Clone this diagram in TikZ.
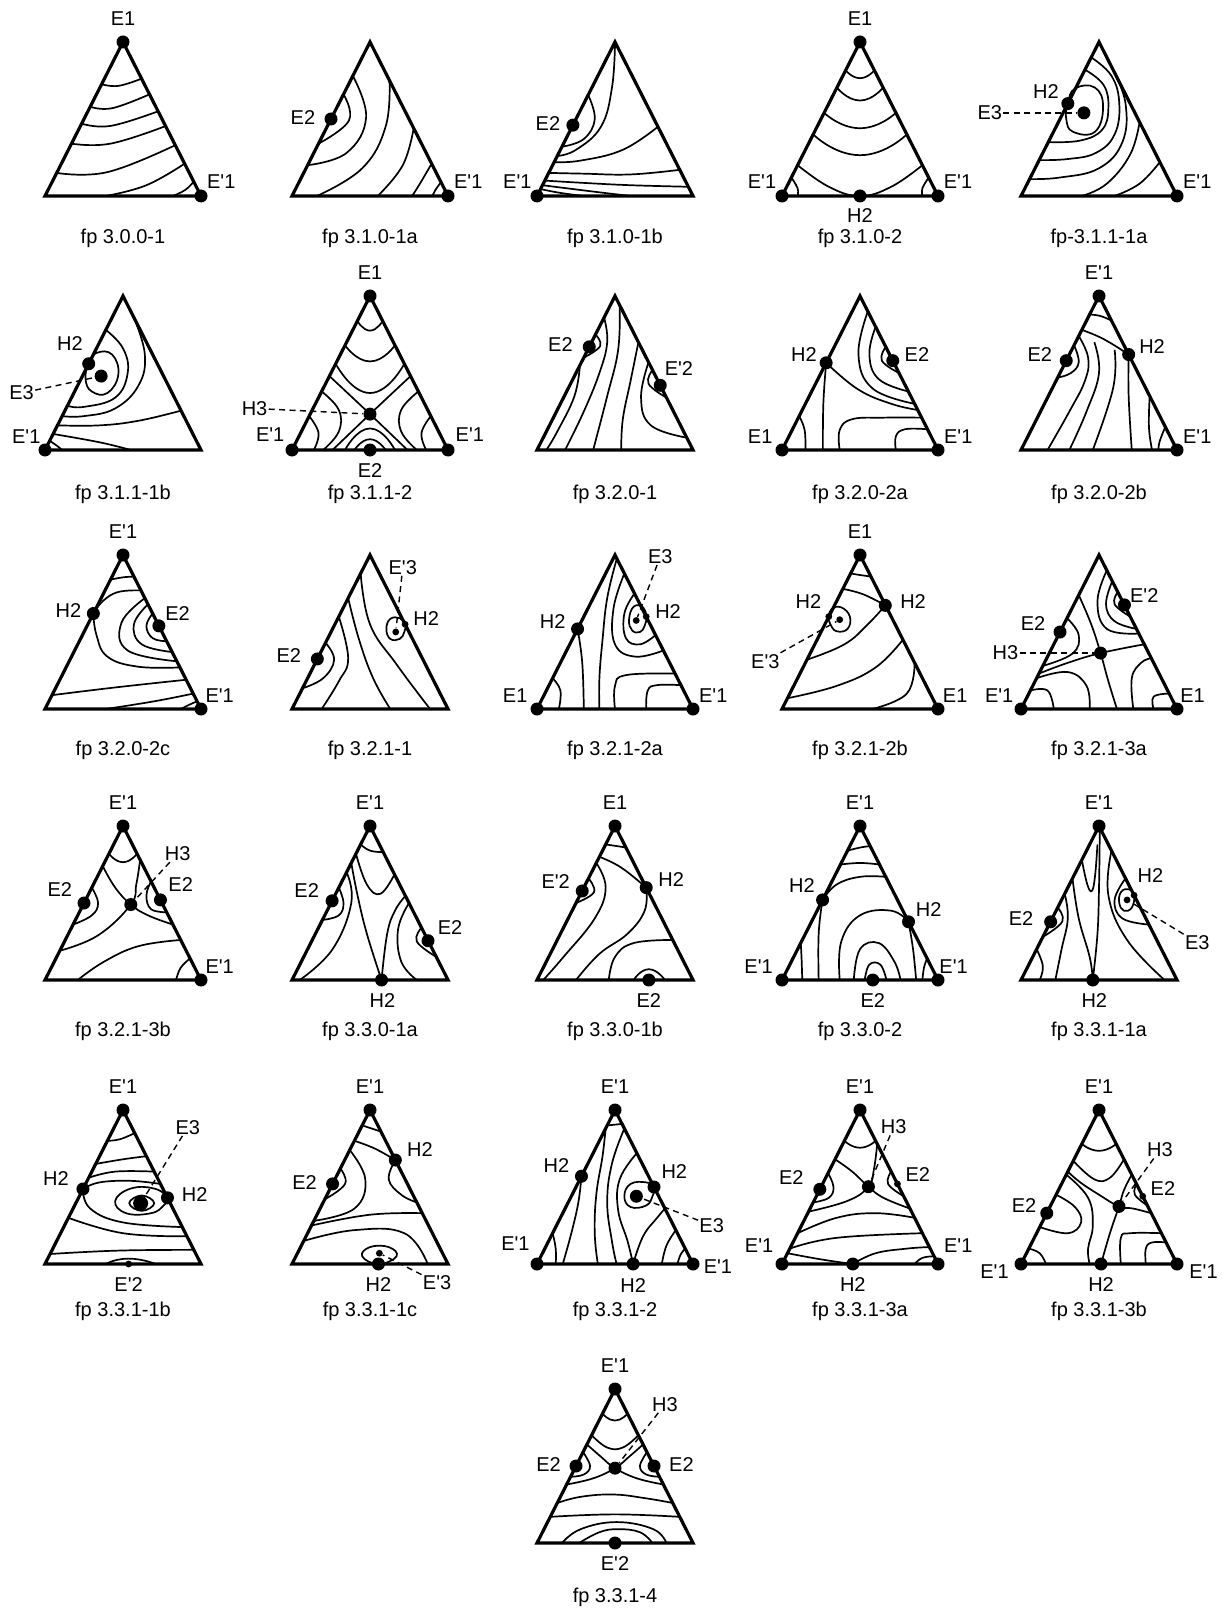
\documentclass[tikz,border=0pt]{standalone}
\usepackage{fontspec}
\setmainfont{Liberation Sans}[Ligatures=TeXOff]
\newcommand\ptri{\draw[edge] (0,0) -- (1,0) -- (0.5,1) -- cycle;}
\newcommand\pcl[1]{\draw[cont] plot[smooth,tension=0.7] coordinates {#1};}
\newcommand\pcu[1]{\draw[cont] plot[smooth,tension=1] coordinates {#1};}
\newcommand\ploop[1]{\draw[cont] plot[smooth cycle,tension=0.75] coordinates {#1};}
\begin{document}
\begin{tikzpicture}[x=0.5pt,y=-0.5pt,
 edge/.style={line width=1.6pt,line join=miter},
 cont/.style={line width=0.85pt},
 dot/.style={circle,fill=black,inner sep=0pt,minimum size=6.5pt},
 sdot/.style={circle,fill=black,inner sep=0pt,minimum size=3.4pt},
 vl/.style={font=\fontsize{10}{12}\selectfont,inner sep=0.5pt},
 pl/.style={font=\fontsize{10}{12}\selectfont,inner sep=0.5pt},
 lead/.style={line width=0.7pt,dash pattern=on 3pt off 2.2pt},
 pan/.style={x=78pt,y=77pt}]
\fill[white] (0,0) rectangle (1221,1610);
\useasboundingbox (0,0) rectangle (1221,1610);

% ---------- A fp 3.0.0-1
\begin{scope}[shift={(45,196)},pan]
\ptri
\pcl{(0.363,0.726) (0.47,0.715) (0.619,0.762)}
\pcl{(0.29,0.58) (0.43,0.57) (0.67,0.66)}
\pcl{(0.235,0.47) (0.42,0.455) (0.725,0.55)}
\pcl{(0.17,0.34) (0.42,0.34) (0.773,0.454)}
\pcl{(0.075,0.15) (0.4,0.155) (0.835,0.33)}
\pcl{(0.39,0) (0.65,0.07) (0.895,0.21)}
\pcl{(0.82,0) (0.9,0.04) (0.953,0.093)}
\node[dot] (a1) at (0.5,1) {};
\node[dot] (a2) at (1,0) {};
\node[vl] (al1) at (0.5,1.155) {E1};
\node[vl] (al2) at (1.13,0.095) {E'1};
\end{scope}
\node[pl] (at) at (123,238) {fp 3.0.0-1};

% ---------- B fp 3.1.0-1a
\begin{scope}[shift={(292,196)},pan]
\ptri
\pcl{(0.33,0.66) (0.365,0.49) (0.17,0.34)}
\pcl{(0.39,0.78) (0.475,0.51) (0.35,0.28) (0.1,0.2)}
\pcl{(0.625,0.75) (0.6,0.45) (0.45,0.18) (0.16,0)}
\pcl{(0.78,0.44) (0.71,0.2) (0.55,0)}
\pcl{(0.895,0.21) (0.82,0.08) (0.77,0)}
\pcl{(0.955,0.09) (0.92,0.04) (0.9,0)}
\node[dot] (b1) at (0.25,0.5) {};
\node[dot] (b2) at (1,0) {};
\node[vl] (bl1) at (0.07,0.51) {E2};
\node[vl] (bl2) at (1.13,0.095) {E'1};
\end{scope}
\node[pl] (bt) at (370,238) {fp 3.1.0-1a};

% ---------- C fp 3.1.0-1b
\begin{scope}[shift={(537,196)},pan]
\ptri
\pcl{(0.328,0.656) (0.37,0.5) (0.3,0.37) (0.16,0.32)}
\pcl{(0.5,0.99) (0.48,0.7) (0.41,0.45) (0.25,0.3) (0.13,0.26)}
\pcl{(0.775,0.45) (0.55,0.3) (0.28,0.23) (0.11,0.22)}
\pcl{(0.915,0.17) (0.6,0.14) (0.3,0.145) (0.075,0.15)}
\pcl{(0.97,0.06) (0.6,0.07) (0.3,0.085) (0.05,0.1)}
\pcl{(0.6,0) (0.35,0.03) (0.035,0.07)}
\pcl{(0.3,0) (0.15,0.02) (0.022,0.045)}
\node[dot] (c1) at (0.23,0.46) {};
\node[dot] (c2) at (0,0) {};
\node[vl] (cl1) at (0.07,0.47) {E2};
\node[vl] (cl2) at (-0.126,0.095) {E'1};
\end{scope}
\node[pl] (ct) at (615,238) {fp 3.1.0-1b};

% ---------- D fp 3.1.0-2
\begin{scope}[shift={(782,196)},pan]
\ptri
\pcu{(0.408,0.816) (0.5,0.765) (0.592,0.816)}
\pcu{(0.352,0.704) (0.5,0.62) (0.648,0.704)}
\pcu{(0.27,0.54) (0.5,0.44) (0.73,0.54)}
\pcu{(0.2,0.4) (0.5,0.265) (0.8,0.4)}
\pcl{(0.1,0.2) (0.3,0.06) (0.5,0) (0.7,0.06) (0.9,0.2)}
\pcl{(0.06,0.12) (0.1,0.05) (0.1,0)}
\pcl{(0.94,0.12) (0.9,0.05) (0.9,0)}
\node[dot] (d1) at (0.5,1) {};
\node[dot] (d2) at (0,0) {};
\node[dot] (d3) at (1,0) {};
\node[dot] (d4) at (0.5,0) {};
\node[vl] (dl1) at (0.5,1.155) {E1};
\node[vl] (dl2) at (-0.128,0.093) {E'1};
\node[vl] (dl3) at (1.128,0.093) {E'1};
\node[vl] (dl4) at (0.5,-0.125) {H2};
\end{scope}
\node[pl] (dt) at (860,238) {fp 3.1.0-2};

% ---------- E fp-3.1.1-1a
\begin{scope}[shift={(1021,196)},pan]
\ptri
\ploop{(0.3,0.6) (0.346,0.698) (0.474,0.704) (0.526,0.579) (0.474,0.417) (0.333,0.417) (0.29,0.5)}
\pcl{(0.41,0.82) (0.53,0.72) (0.56,0.57) (0.52,0.43) (0.38,0.36) (0.176,0.35)}
\pcl{(0.45,0.9) (0.58,0.78) (0.63,0.6) (0.6,0.4) (0.48,0.28) (0.3,0.24) (0.117,0.233)}
\pcl{(0.59,0.82) (0.67,0.6) (0.65,0.35) (0.5,0.18) (0.25,0.12) (0.055,0.11)}
\pcl{(0.76,0.48) (0.7,0.27) (0.55,0.08) (0.39,0)}
\pcl{(0.89,0.22) (0.76,0.08) (0.6,0)}
\node[dot] (e1) at (0.3,0.6) {};
\node[dot] (e2) at (0.403,0.54) {};
\node[dot] (e3) at (1,0) {};
\node[vl] (el1) at (0.16,0.676) {H2};
\node[vl] (el2) at (-0.2,0.54) {E3};
\node[vl] (el3) at (1.13,0.095) {E'1};
\draw[lead] (el2) -- (e2);
\end{scope}
\node[pl] (et) at (1099,238) {fp-3.1.1-1a};

% ---------- F fp 3.1.1-1b
\begin{scope}[shift={(45,450)},pan]
\ptri
\ploop{(0.28,0.56) (0.33,0.63) (0.43,0.62) (0.47,0.49) (0.4,0.37) (0.3,0.38) (0.26,0.46)}
\pcl{(0.39,0.78) (0.5,0.66) (0.53,0.5) (0.45,0.34) (0.25,0.28) (0.144,0.287)}
\pcl{(0.57,0.86) (0.64,0.62) (0.6,0.42) (0.45,0.27) (0.25,0.22) (0.11,0.22)}
\pcl{(0.87,0.255) (0.6,0.19) (0.35,0.16) (0.08,0.16)}
\pcl{(0.052,0.104) (0.35,0.05) (0.55,0)}
\pcl{(0.03,0.06) (0.08,0.025) (0.11,0)}
\node[dot] (f1) at (0.28,0.56) {};
\node[dot] (f2) at (0.36,0.48) {};
\node[dot] (f3) at (0,0) {};
\node[vl] (fl1) at (0.16,0.69) {H2};
\node[vl] (fl2) at (-0.15,0.37) {E3};
\node[vl] (fl3) at (-0.12,0.09) {E'1};
\draw[lead] (fl2) -- (f2);
\end{scope}
\node[pl] (ft) at (123,494) {fp 3.1.1-1b};

% ---------- G fp 3.1.1-2
\begin{scope}[shift={(292,450)},pan]
\ptri
\pcu{(0.419,0.838) (0.5,0.775) (0.581,0.838)}
\pcu{(0.34,0.68) (0.5,0.575) (0.66,0.68)}
\pcu{(0.28,0.56) (0.5,0.37) (0.72,0.56)}
\pcl{(0.24,0.48) (0.5,0.233) (0.74,0)}
\pcl{(0.76,0.48) (0.5,0.233) (0.26,0)}
\pcl{(0.19,0.38) (0.3,0.26) (0.3,0.12) (0.2,0)}
\pcl{(0.11,0.22) (0.17,0.11) (0.14,0)}
\pcl{(0.81,0.38) (0.7,0.26) (0.7,0.12) (0.8,0)}
\pcl{(0.89,0.22) (0.83,0.11) (0.86,0)}
\pcu{(0.34,0) (0.5,0.14) (0.66,0)}
\pcu{(0.4,0) (0.5,0.07) (0.6,0)}
\node[dot] (g1) at (0.5,1) {};
\node[dot] (g2) at (0,0) {};
\node[dot] (g3) at (1,0) {};
\node[dot] (g4) at (0.5,0) {};
\node[dot] (g5) at (0.5,0.233) {};
\node[vl] (gl1) at (0.5,1.155) {E1};
\node[vl] (gl2) at (-0.14,0.1) {E'1};
\node[vl] (gl3) at (1.14,0.1) {E'1};
\node[vl] (gl4) at (0.5,-0.13) {E2};
\node[vl] (gl5) at (-0.24,0.27) {H3};
\draw[lead] (gl5) -- (g5);
\end{scope}
\node[pl] (gt) at (370,494) {fp 3.1.1-2};

% ---------- H fp 3.2.0-1
\begin{scope}[shift={(537,450)},pan]
\ptri
\pcl{(0.375,0.75) (0.405,0.675) (0.3,0.6)}
\pcl{(0.74,0.52) (0.715,0.43) (0.83,0.34)}
\pcl{(0.275,0.55) (0.24,0.35) (0.13,0.12) (0.06,0)}
\pcl{(0.43,0.86) (0.45,0.7) (0.4,0.5) (0.3,0.25) (0.18,0)}
\pcl{(0.53,0.94) (0.52,0.65) (0.45,0.35) (0.36,0)}
\pcl{(0.65,0.7) (0.6,0.45) (0.55,0.2) (0.54,0)}
\pcl{(0.715,0.57) (0.667,0.34) (0.73,0.16) (0.96,0.08)}
\node[dot] (h1) at (0.335,0.67) {};
\node[dot] (h2) at (0.79,0.42) {};
\node[vl] (hl1) at (0.15,0.685) {E2};
\node[vl] (hl2) at (0.91,0.53) {E'2};
\end{scope}
\node[pl] (ht) at (615,494) {fp 3.2.0-1};

% ---------- I fp 3.2.0-2a
\begin{scope}[shift={(782,450)},pan]
\ptri
\pcl{(0.665,0.67) (0.64,0.58) (0.75,0.5)}
\pcl{(0.6,0.8) (0.56,0.62) (0.62,0.46) (0.81,0.38)}
\pcl{(0.55,0.9) (0.49,0.62) (0.58,0.4) (0.85,0.3)}
\pcl{(0.283,0.566) (0.487,0.394) (0.7,0.3) (0.87,0.26)}
\pcl{(0.283,0.566) (0.265,0.3) (0.262,0)}
\pcl{(0.15,0) (0.145,0.13) (0.11,0.22)}
\pcl{(0.37,0) (0.37,0.13) (0.45,0.2) (0.65,0.21) (0.895,0.21)}
\pcl{(0.73,0) (0.73,0.09) (0.79,0.135) (0.93,0.135)}
\node[dot] (i1) at (0.283,0.566) {};
\node[dot] (i2) at (0.71,0.58) {};
\node[dot] (i3) at (0,0) {};
\node[dot] (i4) at (1,0) {};
\node[vl] (il1) at (0.14,0.62) {H2};
\node[vl] (il2) at (0.865,0.62) {E2};
\node[vl] (il3) at (-0.14,0.09) {E1};
\node[vl] (il4) at (1.13,0.09) {E'1};
\end{scope}
\node[pl] (it) at (860,494) {fp 3.2.0-2a};

% ---------- J fp 3.2.0-2b
\begin{scope}[shift={(1021,450)},pan]
\ptri
\pcl{(0.34,0.68) (0.37,0.57) (0.32,0.5) (0.235,0.47)}
\pcl{(0.44,0.88) (0.51,0.87) (0.58,0.84)}
\pcl{(0.39,0.78) (0.53,0.72) (0.69,0.62)}
\pcl{(0.37,0.74) (0.43,0.6) (0.41,0.45) (0.31,0.25) (0.17,0)}
\pcl{(0.47,0.7) (0.5,0.5) (0.42,0.25) (0.31,0)}
\pcl{(0.6,0.65) (0.59,0.4) (0.46,0)}
\pcl{(0.69,0.62) (0.69,0.35) (0.71,0)}
\pcl{(0.825,0.35) (0.82,0.15) (0.84,0)}
\pcl{(0.925,0.15) (0.89,0.06) (0.88,0)}
\node[dot] (j1) at (0.5,1) {};
\node[dot] (j2) at (1,0) {};
\node[dot] (j3) at (0.29,0.58) {};
\node[dot] (j4) at (0.69,0.62) {};
\node[vl] (jl1) at (0.5,1.155) {E'1};
\node[vl] (jl2) at (1.13,0.09) {E'1};
\node[vl] (jl3) at (0.12,0.62) {E2};
\node[vl] (jl4) at (0.84,0.675) {H2};
\end{scope}
\node[pl] (jt) at (1099,494) {fp 3.2.0-2b};

% ---------- K fp 3.2.0-2c
\begin{scope}[shift={(45,709)},pan]
\ptri
\pcl{(0.42,0.84) (0.5,0.855) (0.57,0.86)}
\pcl{(0.31,0.62) (0.37,0.7) (0.47,0.76) (0.615,0.77)}
\pcl{(0.31,0.62) (0.33,0.48) (0.4,0.34) (0.595,0.275) (0.865,0.27)}
\pcl{(0.69,0.62) (0.65,0.54) (0.69,0.46) (0.78,0.44)}
\pcl{(0.66,0.68) (0.57,0.55) (0.62,0.42) (0.815,0.37)}
\pcl{(0.64,0.72) (0.49,0.56) (0.53,0.38) (0.845,0.31)}
\pcl{(0.046,0.09) (0.45,0.14) (0.905,0.19)}
\pcl{(0.39,0) (0.7,0.05) (0.95,0.1)}
\pcl{(0.87,0) (0.93,0.03) (0.975,0.05)}
\node[dot] (k1) at (0.5,1) {};
\node[dot] (k2) at (1,0) {};
\node[dot] (k3) at (0.31,0.62) {};
\node[dot] (k4) at (0.73,0.54) {};
\node[vl] (kl1) at (0.5,1.155) {E'1};
\node[vl] (kl2) at (1.12,0.09) {E'1};
\node[vl] (kl3) at (0.15,0.64) {H2};
\node[vl] (kl4) at (0.85,0.62) {E2};
\end{scope}
\node[pl] (kt) at (123,750) {fp 3.2.0-2c};

% ---------- L fp 3.2.1-1
\begin{scope}[shift={(292,709)},pan]
\ptri
\ploop{(0.725,0.55) (0.69,0.59) (0.63,0.585) (0.605,0.52) (0.63,0.455) (0.69,0.455) (0.72,0.5)}
\pcl{(0.215,0.43) (0.27,0.32) (0.2,0.2) (0.068,0.135)}
\pcl{(0.3,0.6) (0.36,0.33) (0.3,0.18) (0.19,0)}
\pcl{(0.36,0.72) (0.43,0.45) (0.52,0.2) (0.63,0)}
\pcl{(0.44,0.88) (0.5,0.55) (0.67,0.29) (0.885,0)}
\node[dot] (l1) at (0.1625,0.325) {};
\node[sdot] (l2) at (0.725,0.55) {};
\node[sdot] (l3) at (0.665,0.5) {};
\node[vl] (ll1) at (-0.02,0.35) {E2};
\node[vl] (ll2) at (0.86,0.59) {H2};
\node[vl] (ll3) at (0.71,0.92) {E'3};
\draw[lead] (ll3) -- (l3);
\end{scope}
\node[pl] (lt) at (370,750) {fp 3.2.1-1};

% ---------- M fp 3.2.1-2a
\begin{scope}[shift={(537,709)},pan]
\ptri
\ploop{(0.7,0.6) (0.68,0.66) (0.62,0.665) (0.59,0.58) (0.61,0.51) (0.66,0.5) (0.69,0.54)}
\pcl{(0.625,0.75) (0.56,0.62) (0.57,0.46) (0.66,0.42) (0.76,0.48)}
\pcl{(0.56,0.88) (0.49,0.65) (0.5,0.42) (0.63,0.34) (0.81,0.38)}
\pcl{(0.51,0.97) (0.45,0.72) (0.42,0.45) (0.4,0.2) (0.4,0)}
\pcl{(0.26,0.52) (0.29,0.3) (0.3,0)}
\pcl{(0.5,0) (0.5,0.15) (0.57,0.22) (0.885,0.23)}
\pcl{(0.7,0) (0.71,0.12) (0.77,0.155) (0.92,0.155)}
\pcl{(0.14,0) (0.15,0.12) (0.1,0.2)}
\node[dot] (m1) at (0.26,0.52) {};
\node[dot] (m2) at (0,0) {};
\node[dot] (m3) at (1,0) {};
\node[sdot] (m4) at (0.636,0.575) {};
\node[sdot] (m5) at (0.7,0.6) {};
\node[vl] (ml1) at (0.1,0.57) {H2};
\node[vl] (ml2) at (-0.14,0.09) {E1};
\node[vl] (ml3) at (1.13,0.09) {E'1};
\node[vl] (ml4) at (0.79,0.99) {E3};
\node[vl] (ml5) at (0.84,0.63) {H2};
\draw[lead] (ml4) -- (m4);
\end{scope}
\node[pl] (mt) at (615,750) {fp 3.2.1-2a};

% ---------- N fp 3.2.1-2b
\begin{scope}[shift={(782,709)},pan]
\ptri
\ploop{(0.3,0.6) (0.32,0.65) (0.38,0.66) (0.435,0.6) (0.42,0.52) (0.35,0.505) (0.31,0.55)}
\pcl{(0.44,0.88) (0.5,0.87) (0.57,0.86)}
\pcl{(0.662,0.673) (0.52,0.745) (0.39,0.78)}
\pcl{(0.662,0.673) (0.55,0.55) (0.4,0.42) (0.16,0.32)}
\pcl{(0.775,0.45) (0.6,0.27) (0.35,0.15) (0.035,0.07)}
\pcl{(0.85,0.3) (0.8,0.1) (0.58,0)}
\node[dot] (n1) at (0.5,1) {};
\node[dot] (n2) at (1,0) {};
\node[dot] (n3) at (0.662,0.673) {};
\node[sdot] (n4) at (0.3,0.6) {};
\node[sdot] (n5) at (0.37,0.58) {};
\node[vl] (nl1) at (0.5,1.155) {E1};
\node[vl] (nl2) at (1.11,0.09) {E1};
\node[vl] (nl3) at (0.84,0.7) {H2};
\node[vl] (nl4) at (0.17,0.695) {H2};
\node[vl] (nl5) at (-0.107,0.31) {E'3};
\draw[lead] (nl5) -- (n5);
\end{scope}
\node[pl] (nt) at (860,750) {fp 3.2.1-2b};

% ---------- O fp 3.2.1-3a
\begin{scope}[shift={(1021,709)},pan]
\ptri
\pcl{(0.62,0.76) (0.6,0.68) (0.7,0.6)}
\pcl{(0.585,0.83) (0.545,0.68) (0.6,0.57) (0.74,0.52)}
\pcl{(0.55,0.9) (0.49,0.7) (0.55,0.52) (0.755,0.49)}
\pcl{(0.115,0.23) (0.3,0.3) (0.51,0.363) (0.79,0.42)}
\pcl{(0.37,0.74) (0.45,0.55) (0.51,0.363) (0.56,0.18) (0.615,0)}
\pcl{(0.295,0.59) (0.37,0.48) (0.33,0.36) (0.14,0.28)}
\pcl{(0.1,0.2) (0.3,0.24) (0.42,0.15) (0.44,0)}
\pcl{(0.06,0.12) (0.17,0.12) (0.21,0)}
\pcl{(0.72,0) (0.71,0.2) (0.77,0.3) (0.835,0.33)}
\pcl{(0.85,0) (0.85,0.08) (0.95,0.1)}
\node[dot] (o1) at (0,0) {};
\node[dot] (o2) at (1,0) {};
\node[dot] (o3) at (0.663,0.676) {};
\node[dot] (o4) at (0.25,0.5) {};
\node[dot] (o5) at (0.51,0.363) {};
\node[vl] (ol1) at (-0.14,0.09) {E'1};
\node[vl] (ol2) at (1.1,0.09) {E1};
\node[vl] (ol3) at (0.79,0.74) {E'2};
\node[vl] (ol4) at (0.077,0.557) {E2};
\node[vl] (ol5) at (-0.1,0.363) {H3};
\draw[lead] (ol5) -- (o5);
\end{scope}
\node[pl] (ot) at (1099,750) {fp 3.2.1-3a};

% ---------- P fp 3.2.1-3b
\begin{scope}[shift={(45,980)},pan]
\ptri
\pcu{(0.41,0.82) (0.5,0.765) (0.59,0.82)}
\pcl{(0.37,0.74) (0.45,0.6) (0.55,0.49) (0.66,0.42) (0.82,0.36)}
\pcl{(0.61,0.78) (0.585,0.62) (0.55,0.49) (0.34,0.29) (0.095,0.19)}
\pcl{(0.3,0.6) (0.34,0.5) (0.3,0.42) (0.18,0.36)}
\pcl{(0.68,0.64) (0.65,0.55) (0.68,0.46) (0.78,0.44)}
\pcl{(0.21,0) (0.38,0.12) (0.6,0.22) (0.87,0.26)}
\pcl{(0.84,0) (0.87,0.08) (0.93,0.14)}
\node[dot] (p1) at (0.5,1) {};
\node[dot] (p2) at (1,0) {};
\node[dot] (p3) at (0.25,0.5) {};
\node[dot] (p4) at (0.55,0.49) {};
\node[dot] (p5) at (0.74,0.52) {};
\node[vl] (pl1) at (0.5,1.155) {E'1};
\node[vl] (pl2) at (1.12,0.09) {E'1};
\node[vl] (pl3) at (0.095,0.59) {E2};
\node[vl] (pl4) at (0.85,0.82) {H3};
\node[vl] (pl5) at (0.87,0.622) {E2};
\draw[lead] (pl4) -- (p4);
\end{scope}
\node[pl] (pt) at (123,1031) {fp 3.2.1-3b};

% ---------- Q fp 3.3.0-1a
\begin{scope}[shift={(292,980)},pan]
\ptri
\pcl{(0.44,0.88) (0.5,0.84) (0.585,0.83)}
\pcl{(0.3,0.6) (0.33,0.5) (0.3,0.42) (0.195,0.39)}
\pcl{(0.38,0.76) (0.42,0.55) (0.48,0.3) (0.574,0)}
\pcl{(0.574,0) (0.61,0.3) (0.66,0.45) (0.727,0.546)}
\pcl{(0.41,0.82) (0.48,0.62) (0.567,0.56) (0.657,0.686)}
\pcl{(0.35,0.7) (0.38,0.5) (0.26,0.2) (0.05,0)}
\pcl{(0.83,0.34) (0.8,0.25) (0.925,0.15)}
\pcl{(0.75,0.5) (0.68,0.33) (0.7,0.12) (0.8,0)}
\node[dot] (q1) at (0.5,1) {};
\node[dot] (q2) at (0.257,0.514) {};
\node[dot] (q3) at (0.872,0.255) {};
\node[dot] (q4) at (0.574,0) {};
\node[vl] (ql1) at (0.5,1.155) {E'1};
\node[vl] (ql2) at (0.094,0.58) {E2};
\node[vl] (ql3) at (1.013,0.34) {E2};
\node[vl] (ql4) at (0.58,-0.134) {H2};
\end{scope}
\node[pl] (qt) at (370,1031) {fp 3.3.0-1a};

% ---------- R fp 3.3.0-1b
\begin{scope}[shift={(537,980)},pan]
\ptri
\pcl{(0.44,0.88) (0.51,0.87) (0.57,0.86)}
\pcl{(0.4,0.8) (0.54,0.73) (0.7,0.6)}
\pcl{(0.33,0.66) (0.365,0.57) (0.25,0.5)}
\pcl{(0.38,0.76) (0.44,0.6) (0.37,0.4) (0.17,0.15) (0.04,0)}
\pcl{(0.7,0.6) (0.69,0.45) (0.58,0.3) (0.4,0.17) (0.25,0)}
\pcl{(0.46,0) (0.5,0.15) (0.62,0.24) (0.87,0.26)}
\pcu{(0.62,0) (0.717,0.07) (0.82,0)}
\node[dot] (r1) at (0.5,1) {};
\node[dot] (r2) at (0.29,0.578) {};
\node[dot] (r3) at (0.7,0.6) {};
\node[dot] (r4) at (0.717,0) {};
\node[vl] (rl1) at (0.5,1.155) {E1};
\node[vl] (rl2) at (0.12,0.64) {E'2};
\node[vl] (rl3) at (0.86,0.65) {H2};
\node[vl] (rl4) at (0.717,-0.134) {E2};
\end{scope}
\node[pl] (rt) at (615,1031) {fp 3.3.0-1b};

% ---------- S fp 3.3.0-2
\begin{scope}[shift={(782,980)},pan]
\ptri
\pcl{(0.42,0.84) (0.5,0.86) (0.565,0.87)}
\pcl{(0.375,0.75) (0.5,0.76) (0.625,0.75)}
\pcl{(0.26,0.52) (0.35,0.62) (0.5,0.67) (0.665,0.67)}
\pcl{(0.26,0.52) (0.235,0.3) (0.235,0)}
\pcl{(0.811,0.378) (0.7,0.45) (0.5,0.42) (0.38,0.25) (0.37,0)}
\pcl{(0.811,0.378) (0.84,0.2) (0.86,0)}
\pcl{(0.46,0) (0.5,0.2) (0.62,0.24) (0.72,0.12) (0.76,0)}
\pcl{(0.53,0) (0.56,0.1) (0.63,0.1) (0.67,0)}
\pcl{(0.13,0) (0.125,0.15) (0.12,0.24)}
\pcl{(0.9,0) (0.91,0.08) (0.93,0.14)}
\node[dot] (s1) at (0.5,1) {};
\node[dot] (s2) at (0,0) {};
\node[dot] (s3) at (1,0) {};
\node[dot] (s4) at (0.26,0.52) {};
\node[dot] (s5) at (0.811,0.378) {};
\node[dot] (s6) at (0.582,0) {};
\node[vl] (sl1) at (0.5,1.155) {E'1};
\node[vl] (sl2) at (-0.15,0.09) {E'1};
\node[vl] (sl3) at (1.1,0.09) {E'1};
\node[vl] (sl4) at (0.128,0.611) {H2};
\node[vl] (sl5) at (0.94,0.46) {H2};
\node[vl] (sl6) at (0.582,-0.134) {E2};
\end{scope}
\node[pl] (st) at (860,1031) {fp 3.3.0-2};

% ---------- T fp 3.3.1-1a
\begin{scope}[shift={(1021,980)},pan]
\ptri
\ploop{(0.725,0.55) (0.69,0.59) (0.64,0.57) (0.63,0.5) (0.66,0.45) (0.71,0.47)}
\pcl{(0.67,0.66) (0.6,0.52) (0.65,0.4) (0.82,0.36)}
\pcl{(0.58,0.84) (0.56,0.55) (0.68,0.26) (0.92,0)}
\pcl{(0.33,0.66) (0.37,0.4) (0.44,0.15) (0.46,0)}
\pcl{(0.505,0.98) (0.5,0.6) (0.49,0.3) (0.46,0)}
\pcl{(0.39,0.78) (0.425,0.62) (0.455,0.58) (0.475,0.68) (0.49,0.88)}
\pcl{(0.28,0.56) (0.3,0.4) (0.26,0.2) (0.22,0)}
\pcl{(0.235,0.47) (0.265,0.38) (0.14,0.28)}
\pcl{(0.1,0.2) (0.14,0.09) (0.12,0)}
\node[dot] (t1) at (0.5,1) {};
\node[dot] (t2) at (0.19,0.378) {};
\node[dot] (t3) at (0.46,0) {};
\node[sdot] (t4) at (0.725,0.55) {};
\node[sdot] (t5) at (0.68,0.52) {};
\node[vl] (tl1) at (0.5,1.155) {E'1};
\node[vl] (tl2) at (0.0,0.4) {E2};
\node[vl] (tl3) at (0.47,-0.134) {H2};
\node[vl] (tl4) at (0.83,0.68) {H2};
\node[vl] (tl5) at (1.13,0.244) {E3};
\draw[lead] (tl5) -- (t5);
\end{scope}
\node[pl] (tt) at (1099,1031) {fp 3.3.1-1a};

% ---------- U fp 3.3.1-1b
\begin{scope}[shift={(45,1264)},pan]
\ptri
\pcl{(0.4,0.8) (0.48,0.81) (0.575,0.85)}
\pcl{(0.325,0.65) (0.5,0.68) (0.65,0.7)}
\pcl{(0.28,0.56) (0.45,0.6) (0.7,0.6)}
\pcl{(0.243,0.487) (0.35,0.53) (0.55,0.54) (0.74,0.52)}
\ploop{(0.785,0.43) (0.7,0.49) (0.55,0.49) (0.45,0.41) (0.52,0.33) (0.68,0.33) (0.76,0.38)}
\ploop{(0.7,0.395) (0.62,0.445) (0.54,0.395) (0.62,0.345)}
\pcl{(0.243,0.487) (0.29,0.36) (0.5,0.27) (0.88,0.24)}
\pcl{(0.15,0.3) (0.5,0.2) (0.91,0.18)}
\pcl{(0.033,0.065) (0.467,0.087) (0.954,0.092)}
\pcu{(0.39,0) (0.536,0.035) (0.71,0)}
\node[dot] (u1) at (0.5,1) {};
\node[dot] (u2) at (0.243,0.487) {};
\node[dot] (u3) at (0.785,0.43) {};
\node[dot,minimum size=7.5pt] (u4) at (0.613,0.394) {};
\node[sdot] (u5) at (0.536,0) {};
\node[vl] (ul1) at (0.5,1.155) {E'1};
\node[vl] (ul2) at (0.07,0.553) {H2};
\node[vl] (ul3) at (0.96,0.45) {H2};
\node[vl] (ul4) at (0.915,0.887) {E3};
\node[vl] (ul5) at (0.536,-0.134) {E'2};
\draw[lead] (ul4) -- (u4);
\end{scope}
\node[pl] (ut) at (123,1311) {fp 3.3.1-1b};

% ---------- V fp 3.3.1-1c
\begin{scope}[shift={(292,1264)},pan]
\ptri
\pcl{(0.45,0.9) (0.51,0.88) (0.57,0.86)}
\pcl{(0.4,0.8) (0.53,0.75) (0.6625,0.675)}
\pcl{(0.31,0.62) (0.34,0.52) (0.21,0.42)}
\pcl{(0.37,0.74) (0.47,0.55) (0.4,0.36) (0.14,0.28)}
\pcl{(0.6625,0.675) (0.62,0.55) (0.7,0.45) (0.8,0.4)}
\pcl{(0.125,0.25) (0.5,0.32) (0.835,0.33)}
\pcl{(0.075,0.15) (0.4,0.22) (0.72,0.2) (0.87,0)}
\ploop{(0.554,0) (0.45,0.05) (0.5,0.11) (0.62,0.11) (0.67,0.05)}
\node[dot] (v1) at (0.5,1) {};
\node[dot] (v2) at (0.6625,0.675) {};
\node[dot] (v3) at (0.26,0.52) {};
\node[dot] (v4) at (0.554,0) {};
\node[sdot] (v5) at (0.56,0.07) {};
\node[vl] (vl1) at (0.5,1.155) {E'1};
\node[vl] (vl2) at (0.82,0.745) {H2};
\node[vl] (vl3) at (0.08,0.53) {E2};
\node[vl] (vl4) at (0.554,-0.134) {H2};
\node[vl] (vl5) at (0.93,-0.12) {E'3};
\draw[lead] (vl5) -- (v5);
\end{scope}
\node[pl] (vt) at (370,1311) {fp 3.3.1-1c};

% ---------- W fp 3.3.1-2
\begin{scope}[shift={(537,1264)},pan]
\ptri
\pcl{(0.45,0.9) (0.5,0.905) (0.545,0.91)}
\ploop{(0.75,0.5) (0.7,0.53) (0.6,0.52) (0.56,0.44) (0.6,0.37) (0.7,0.38) (0.74,0.44)}
\pcl{(0.64,0.72) (0.53,0.55) (0.52,0.35) (0.58,0.15) (0.616,0)}
\pcl{(0.616,0) (0.68,0.18) (0.77,0.3) (0.82,0.36)}
\pcl{(0.44,0.88) (0.42,0.7) (0.38,0.45) (0.37,0.2) (0.39,0)}
\pcl{(0.56,0.88) (0.48,0.65) (0.45,0.4) (0.48,0.15) (0.51,0)}
\pcl{(0.285,0.57) (0.265,0.4) (0.22,0.2) (0.165,0)}
\pcl{(0.1,0.2) (0.12,0.1) (0.12,0)}
\pcl{(0.8,0) (0.83,0.12) (0.89,0.22)}
\pcl{(0.9,0) (0.92,0.06) (0.95,0.1)}
\node[dot] (w1) at (0.5,1) {};
\node[dot] (w2) at (0,0) {};
\node[dot] (w3) at (1,0) {};
\node[dot] (w4) at (0.285,0.57) {};
\node[dot] (w5) at (0.75,0.5) {};
\node[dot] (w6) at (0.637,0.44) {};
\node[dot] (w7) at (0.616,0) {};
\node[vl] (wl1) at (0.5,1.155) {E'1};
\node[vl] (wl2) at (-0.138,0.13) {E'1};
\node[vl] (wl3) at (1.16,-0.02) {E'1};
\node[vl] (wl4) at (0.125,0.64) {H2};
\node[vl] (wl5) at (0.88,0.6) {H2};
\node[vl] (wl6) at (1.12,0.25) {E3};
\node[vl] (wl7) at (0.616,-0.14) {H2};
\draw[lead] (wl6) -- (w6);
\end{scope}
\node[pl] (wt) at (615,1311) {fp 3.3.1-2};

% ---------- X fp 3.3.1-3a
\begin{scope}[shift={(782,1264)},pan]
\ptri
\pcu{(0.4,0.8) (0.5,0.755) (0.6,0.8)}
\pcl{(0.34,0.68) (0.45,0.6) (0.554,0.502) (0.65,0.43) (0.82,0.36)}
\pcl{(0.61,0.78) (0.59,0.62) (0.554,0.502) (0.42,0.41) (0.17,0.34)}
\pcl{(0.295,0.59) (0.33,0.5) (0.3,0.43) (0.2,0.4)}
\pcl{(0.7,0.6) (0.68,0.52) (0.78,0.44)}
\pcl{(0.1,0.2) (0.35,0.3) (0.6,0.33) (0.85,0.3)}
\pcl{(0.05,0.1) (0.35,0.17) (0.9,0.2)}
\pcl{(0.454,0) (0.25,0.03) (0.035,0.07)}
\pcl{(0.454,0) (0.6,0.07) (0.8,0.1) (0.945,0.11)}
\pcl{(0.85,0) (0.9,0.04) (0.975,0.05)}
\node[dot] (x1) at (0.5,1) {};
\node[dot] (x2) at (0,0) {};
\node[dot] (x3) at (1,0) {};
\node[dot] (x4) at (0.2425,0.485) {};
\node[dot] (x5) at (0.554,0.502) {};
\node[sdot] (x6) at (0.74,0.52) {};
\node[dot] (x7) at (0.454,0) {};
\node[vl] (xl1) at (0.5,1.155) {E'1};
\node[vl] (xl2) at (-0.147,0.12) {E'1};
\node[vl] (xl3) at (1.13,0.12) {E'1};
\node[vl] (xl4) at (0.06,0.56) {E2};
\node[vl] (xl5) at (0.716,0.89) {H3};
\node[vl] (xl6) at (0.87,0.58) {E2};
\node[vl] (xl7) at (0.454,-0.134) {H2};
\draw[lead] (xl5) -- (x5);
\end{scope}
\node[pl] (xt) at (860,1311) {fp 3.3.1-3a};

% ---------- Y fp 3.3.1-3b
\begin{scope}[shift={(1021,1264)},pan]
\ptri
\pcu{(0.39,0.78) (0.5,0.735) (0.61,0.78)}
\pcl{(0.335,0.67) (0.47,0.55) (0.57,0.56) (0.66,0.68)}
\pcl{(0.71,0.58) (0.66,0.48) (0.628,0.374) (0.57,0.2) (0.513,0)}
\pcl{(0.3,0.6) (0.38,0.53) (0.5,0.45) (0.628,0.374) (0.72,0.36) (0.835,0.33)}
\pcl{(0.74,0.52) (0.73,0.45) (0.81,0.38)}
\pcl{(0.225,0.45) (0.346,0.37) (0.385,0.27) (0.3,0.2) (0.12,0.24)}
\pcl{(0.29,0.58) (0.43,0.43) (0.46,0.25) (0.43,0.1) (0.44,0)}
\pcl{(0.05,0.1) (0.12,0.07) (0.16,0)}
\pcl{(0.64,0) (0.64,0.17) (0.7,0.2) (0.9,0.2)}
\pcl{(0.8,0) (0.8,0.1) (0.84,0.14) (0.93,0.14)}
\node[dot] (y1) at (0.5,1) {};
\node[dot] (y2) at (0,0) {};
\node[dot] (y3) at (1,0) {};
\node[dot] (y4) at (0.165,0.33) {};
\node[dot] (y5) at (0.628,0.374) {};
\node[sdot] (y6) at (0.78,0.44) {};
\node[dot] (y7) at (0.513,0) {};
\node[vl] (yl1) at (0.5,1.155) {E'1};
\node[vl] (yl2) at (-0.17,-0.05) {E'1};
\node[vl] (yl3) at (1.17,-0.05) {E'1};
\node[vl] (yl4) at (0.02,0.38) {E2};
\node[vl] (yl5) at (0.89,0.74) {H3};
\node[vl] (yl6) at (0.91,0.49) {E2};
\node[vl] (yl7) at (0.513,-0.134) {H2};
\draw[lead] (yl5) -- (y5);
\end{scope}
\node[pl] (yt) at (1099,1311) {fp 3.3.1-3b};

% ---------- Z fp 3.3.1-4
\begin{scope}[shift={(537,1543)},pan]
\ptri
\pcu{(0.42,0.84) (0.5,0.795) (0.58,0.84)}
\pcl{(0.35,0.7) (0.45,0.62) (0.55,0.62) (0.65,0.7)}
\pcl{(0.32,0.64) (0.41,0.56) (0.5,0.486) (0.64,0.42) (0.81,0.38)}
\pcl{(0.68,0.64) (0.59,0.56) (0.5,0.486) (0.36,0.42) (0.19,0.38)}
\pcl{(0.295,0.59) (0.34,0.5) (0.3,0.445) (0.215,0.43)}
\pcl{(0.705,0.59) (0.66,0.5) (0.7,0.445) (0.785,0.43)}
\pcl{(0.13,0.26) (0.28,0.3) (0.49,0.315) (0.7,0.29) (0.87,0.26)}
\pcl{(0.085,0.17) (0.5,0.186) (0.915,0.17)}
\pcl{(0.16,0) (0.28,0.09) (0.51,0.136) (0.745,0.09) (0.83,0)}
\pcl{(0.27,0) (0.4,0.07) (0.52,0.09) (0.66,0.07) (0.74,0)}
\node[dot] (z1) at (0.5,1) {};
\node[dot] (z2) at (0.25,0.5) {};
\node[dot] (z3) at (0.5,0.486) {};
\node[dot] (z4) at (0.75,0.5) {};
\node[dot] (z5) at (0.5,0) {};
\node[vl] (zl1) at (0.5,1.155) {E'1};
\node[vl] (zl2) at (0.074,0.51) {E2};
\node[vl] (zl3) at (0.82,0.9) {H3};
\node[vl] (zl4) at (0.926,0.51) {E2};
\node[vl] (zl5) at (0.5,-0.13) {E'2};
\draw[lead] (zl3) -- (z3);
\end{scope}
\node[pl] (zt) at (615,1597) {fp 3.3.1-4};
\end{tikzpicture}
\end{document}
